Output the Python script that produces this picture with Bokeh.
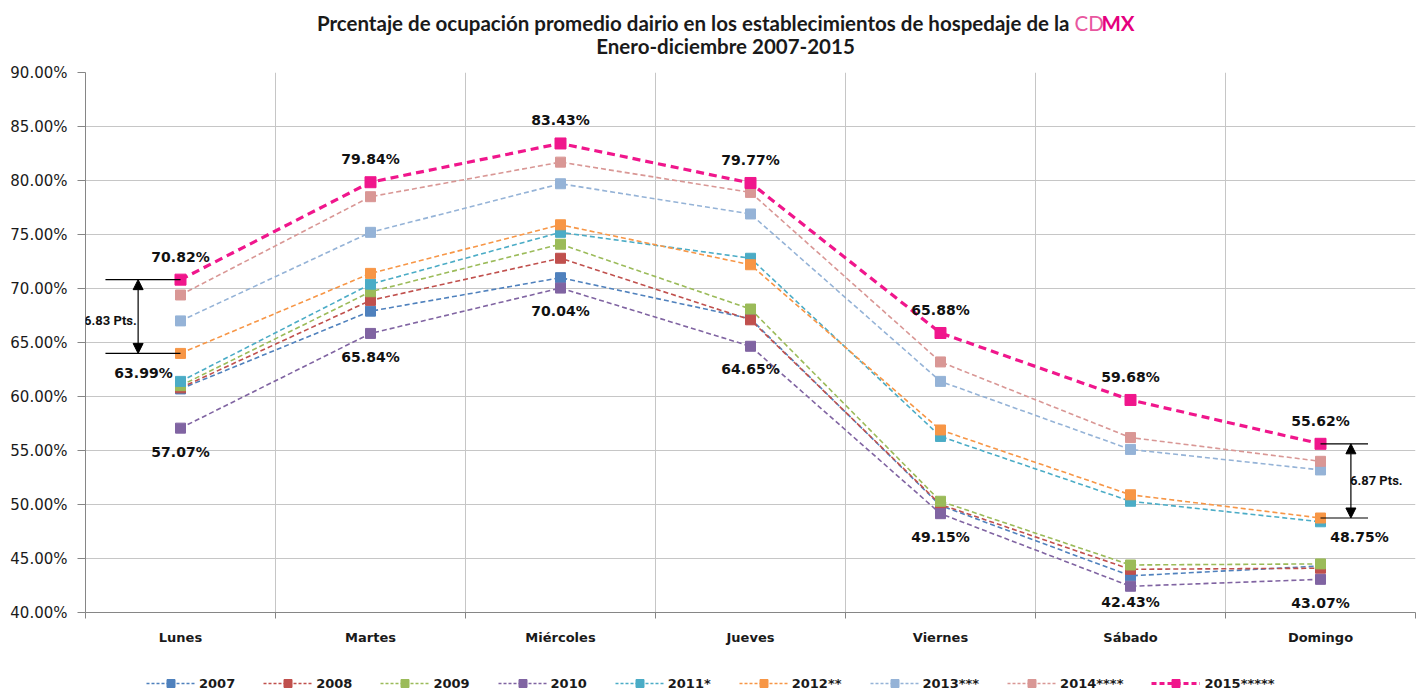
from bokeh.plotting import figure
from bokeh.layouts import column
from bokeh.models import (ColumnDataSource, FixedTicker, PrintfTickFormatter, Legend,
                          LegendItem, Label, Arrow, NormalHead, Range1d)
from bokeh.core.properties import value
from bokeh.embed import file_html
from bokeh.resources import INLINE

# ---------------- data ----------------
days = ["Lunes", "Martes", "Miércoles", "Jueves", "Viernes", "Sábado", "Domingo"]
series_names = ["2007", "2008", "2009", "2010", "2011*", "2012**", "2013***", "2014****", "2015*****"]
y2007 = [60.7, 67.9, 71.0, 67.2, 49.9, 43.4, 44.3]
y2008 = [60.8, 68.9, 72.8, 67.1, 50.0, 44.0, 44.1]
y2009 = [61.0, 69.7, 74.1, 68.1, 50.3, 44.4, 44.5]
y2010 = [57.07, 65.84, 70.04, 64.65, 49.15, 42.43, 43.07]
y2011 = [61.4, 70.4, 75.2, 72.8, 56.3, 50.3, 48.4]
y2012 = [63.99, 71.4, 75.9, 72.2, 56.9, 50.9, 48.75]
y2013 = [67.0, 75.2, 79.7, 76.9, 61.4, 55.1, 53.2]
y2014 = [69.4, 78.5, 81.7, 78.9, 63.2, 56.2, 54.0]
y2015 = [70.82, 79.84, 83.43, 79.77, 65.88, 59.68, 55.62]
y_ticks = [40, 45, 50, 55, 60, 65, 70, 75, 80, 85, 90]
diff_lunes = "6.83 Pts."
diff_domingo = "6.87 Pts."
title_main = "Prcentaje de ocupación promedio dairio en los establecimientos de hospedaje de la"
title_cd = "CD"
title_mx = "MX"
subtitle = "Enero-diciembre 2007-2015"

all_series = [y2007, y2008, y2009, y2010, y2011, y2012, y2013, y2014, y2015]
colors = ["#4F81BD", "#C0504D", "#9BBB59", "#8064A2", "#4BACC6", "#F79646",
          "#95B3D7", "#D99795", "#F0168C"]

xs = list(range(len(days)))
W = 1418
FL, FR = 85, 1415   # frame left / right on the page (frames are aligned by the column)

# ---------------- title strip ----------------
tf = figure(width=W, height=62, output_backend="svg", toolbar_location=None,
            x_range=Range1d(FL, FR), y_range=Range1d(62, 0),
            min_border=0, x_axis_type=None, y_axis_type=None)
tf.outline_line_color = None
tf.grid.visible = False
tfont = value("Lato")
tsize = "20.5px"
tf.text([1069], [22], text=[title_main], text_font=tfont, text_font_style="bold",
        text_font_size=tsize, text_align="right", text_baseline="middle", text_color="#1a1a1a")
tf.text([1074], [22], text=[title_cd], text_font=tfont, text_font_style="normal",
        text_font_size=tsize, text_align="left", text_baseline="middle", text_color="#E8579F")
tf.text([1101], [22], text=[title_mx], text_font=tfont, text_font_style="bold",
        text_font_size=tsize, text_align="left", text_baseline="middle", text_color="#E5007E")
tf.text([725], [45], text=[subtitle], text_font=tfont, text_font_style="bold",
        text_font_size=tsize, text_align="center", text_baseline="middle", text_color="#1a1a1a")

# ---------------- main plot ----------------
p = figure(width=W, height=590, output_backend="svg", toolbar_location=None,
           x_range=Range1d(-0.5, 6.5), y_range=Range1d(40, 90),
           min_border_left=FL, min_border_right=W - FR, min_border_top=10, min_border_bottom=40)
p.outline_line_color = None

p.yaxis.ticker = FixedTicker(ticks=y_ticks)
p.yaxis.formatter = PrintfTickFormatter(format="%.2f%%")
p.yaxis.major_label_text_font = "DejaVu Sans"
p.yaxis.major_label_text_font_size = "15px"
p.yaxis.major_label_text_color = "#1a1a1a"
p.yaxis.major_tick_out = 8
p.yaxis.major_tick_in = 0
p.yaxis.minor_tick_line_color = None
p.yaxis.axis_line_color = "#868686"
p.yaxis.major_tick_line_color = "#868686"
p.yaxis.major_label_standoff = 10

boundaries = [i - 0.5 for i in range(len(days) + 1)]
p.xaxis.ticker = FixedTicker(ticks=xs, minor_ticks=boundaries)
p.xaxis.major_label_overrides = {i: d for i, d in enumerate(days)}
p.xaxis.major_label_text_font = "DejaVu Sans"
p.xaxis.major_label_text_font_style = "bold"
p.xaxis.major_label_text_font_size = "13px"
p.xaxis.major_label_text_color = "#1a1a1a"
p.xaxis.major_tick_line_color = None
p.xaxis.major_tick_out = 0
p.xaxis.major_tick_in = 0
p.xaxis.minor_tick_out = 6
p.xaxis.minor_tick_in = 0
p.xaxis.minor_tick_line_color = "#868686"
p.xaxis.axis_line_color = "#868686"
p.xaxis.major_label_standoff = 11

p.ygrid.grid_line_color = "#C6C6C6"
p.xgrid.ticker = FixedTicker(ticks=boundaries)
p.xgrid.grid_line_color = "#C6C6C6"

def style(name):
    last = name.startswith("2015")
    return dict(lw=3.2 if last else 1.6, dash="8 5" if last else "5 3",
                ms=11 if last else 10)

for name, ys, c in zip(series_names, all_series, colors):
    s = style(name)
    src = ColumnDataSource(dict(x=xs, y=ys))
    p.line("x", "y", source=src, line_color=c, line_width=s["lw"], line_dash=s["dash"])
    p.scatter("x", "y", source=src, marker="square", size=s["ms"],
              fill_color=c, line_color=c)

def fmt(v):
    return "%.2f%%" % v

lab_font = value("DejaVu Sans")
top_src = ColumnDataSource(dict(x=xs, y=y2015, t=[fmt(v) for v in y2015]))
p.text("x", "y", text="t", source=top_src, text_font=lab_font, text_font_style="bold",
       text_font_size="14px", text_align="center", text_baseline="middle",
       y_offset=-23, text_color="#111111")
bot_off = [24, 24, 23, 23, 23, 16, 24]
bot_src = ColumnDataSource(dict(x=xs, y=y2010, t=[fmt(v) for v in y2010], off=bot_off))
p.text("x", "y", text="t", source=bot_src, text_font=lab_font, text_font_style="bold",
       text_font_size="14px", text_align="center", text_baseline="middle",
       y_offset="off", text_color="#111111")
p.text([xs[0]], [y2012[0]], text=[fmt(y2012[0])], text_font=lab_font, text_font_style="bold",
       text_font_size="14px", text_align="center", text_baseline="middle",
       x_offset=-37, y_offset=20, text_color="#111111")
p.text([xs[6]], [y2012[6]], text=[fmt(y2012[6])], text_font=lab_font, text_font_style="bold",
       text_font_size="14px", text_align="center", text_baseline="middle",
       x_offset=39, y_offset=19, text_color="#111111")

# difference markers
head = dict(size=10, fill_color="black", line_color="black")
p.segment(x0=[-0.395, -0.395], y0=[y2015[0], y2012[0]], x1=[xs[0], xs[0]],
          y1=[y2015[0], y2012[0]], line_color="black", line_width=1.2)
p.add_layout(Arrow(x_start=-0.223, y_start=y2012[0], x_end=-0.223, y_end=y2015[0],
                   line_color="black", line_width=1.2,
                   start=NormalHead(**head), end=NormalHead(**head)))
p.add_layout(Label(x=-0.23, y=(y2015[0] + y2012[0]) / 2 - 0.35, text=diff_lunes,
                   x_offset=0, text_font="Roboto", text_font_style="bold", text_font_size="13px",
                   text_align="right", text_baseline="middle", text_color="#111111"))
p.segment(x0=[xs[6], xs[6]], y0=[y2015[6], y2012[6]], x1=[6.25, 6.25],
          y1=[y2015[6], y2012[6]], line_color="black", line_width=1.2)
p.add_layout(Arrow(x_start=6.16, y_start=y2012[6], x_end=6.16, y_end=y2015[6],
                   line_color="black", line_width=1.2,
                   start=NormalHead(**head), end=NormalHead(**head)))
p.add_layout(Label(x=6.155, y=(y2015[6] + y2012[6]) / 2, text=diff_domingo,
                   text_font="Roboto", text_font_style="bold", text_font_size="13px",
                   text_align="left", text_baseline="middle", text_color="#111111"))

# ---------------- legend strip ----------------
# the series are drawn here again only so the legend has glyphs; the ranges keep them out of view
lf = figure(width=W, height=42, output_backend="svg", toolbar_location=None,
            x_range=Range1d(100, 101), y_range=Range1d(0, 1),
            min_border=0, x_axis_type=None, y_axis_type=None)
lf.outline_line_color = None
lf.grid.visible = False
items = []
for name, ys, c in zip(series_names, all_series, colors):
    s = style(name)
    src = ColumnDataSource(dict(x=xs, y=ys))
    lr = lf.line("x", "y", source=src, line_color=c, line_width=s["lw"],
                 line_dash="5 3" if name.startswith("2015") else "3 2")
    sr = lf.scatter("x", "y", source=src, marker="square", size=s["ms"],
                    fill_color=c, line_color=c)
    items.append(LegendItem(label=name, renderers=[lr, sr]))
legend = Legend(items=items, orientation="horizontal", location=(146 - FL, 1),
                glyph_width=49, glyph_height=20, label_standoff=4, spacing=28,
                padding=0, margin=0, border_line_color=None, background_fill_alpha=0,
                label_text_font="DejaVu Sans", label_text_font_style="bold",
                label_text_font_size="13px", label_text_color="#1a1a1a", label_height=20)
lf.add_layout(legend, "center")

layout = column(tf, p, lf, spacing=0)
open("out.html", "w").write(file_html(layout, INLINE))
